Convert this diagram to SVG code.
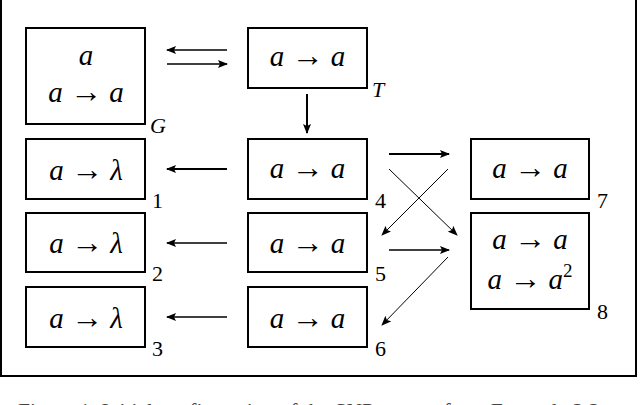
<svg xmlns="http://www.w3.org/2000/svg" width="640" height="405" viewBox="0 0 640 405">
<defs>
<marker id="ah" viewBox="0 0 10 8" refX="9" refY="4" markerWidth="10" markerHeight="8" markerUnits="userSpaceOnUse" orient="auto">
<path d="M0,0 L10,4 L0,8 L2,4 Z" fill="#000"/>
</marker>
</defs>
<style>
.box{fill:#fff;stroke:#000;stroke-width:2}
.m{font-size:29px;fill:#000}
.i{font-style:italic}
.ar{font-size:32px}
.lbl{font-size:22px;fill:#000}
.c{stroke:#000;fill:none;marker-end:url(#ah)}
.t1{stroke-width:1.5}
.t2{stroke-width:2}
.t3{stroke-width:1}
.cap{font-size:21.5px;fill:#444}
</style>
<path d="M1,-5 V376 H636 V-5" fill="none" stroke="#000" stroke-width="2"/>
<g font-family="Liberation Serif, Times New Roman, serif">
<g id="G">
<rect class="box" x="26" y="28" width="119" height="96"/>
<text class="m i" x="86" y="65" text-anchor="middle">a</text>
<text class="m" x="86" y="102" text-anchor="middle"><tspan class="i">a</tspan> <tspan class="ar">→</tspan> <tspan class="i">a</tspan></text>
<text class="lbl i" x="150" y="133" font-size="24">G</text>
</g>
<g id="T">
<rect class="box" x="248" y="28" width="119" height="60"/>
<text class="m" x="307.5" y="66" text-anchor="middle"><tspan class="i">a</tspan> <tspan class="ar">→</tspan> <tspan class="i">a</tspan></text>
<text class="lbl i" x="372" y="97" font-size="24">T</text>
</g>
<g id="n1">
<rect class="box" x="26" y="139" width="119" height="60"/>
<text class="m" x="86" y="180" text-anchor="middle"><tspan class="i">a</tspan> <tspan class="ar">→</tspan> <tspan class="i">λ</tspan></text>
<text class="lbl" x="152" y="208">1</text>
</g>
<g id="n2">
<rect class="box" x="26" y="213" width="119" height="59"/>
<text class="m" x="86" y="253" text-anchor="middle"><tspan class="i">a</tspan> <tspan class="ar">→</tspan> <tspan class="i">λ</tspan></text>
<text class="lbl" x="152" y="281">2</text>
</g>
<g id="n3">
<rect class="box" x="26" y="287" width="119" height="60"/>
<text class="m" x="86" y="328" text-anchor="middle"><tspan class="i">a</tspan> <tspan class="ar">→</tspan> <tspan class="i">λ</tspan></text>
<text class="lbl" x="152" y="356">3</text>
</g>
<g id="n4">
<rect class="box" x="248" y="139" width="119" height="60"/>
<text class="m" x="307.5" y="178" text-anchor="middle"><tspan class="i">a</tspan> <tspan class="ar">→</tspan> <tspan class="i">a</tspan></text>
<text class="lbl" x="375" y="208">4</text>
</g>
<g id="n5">
<rect class="box" x="248" y="213" width="119" height="59"/>
<text class="m" x="307.5" y="253" text-anchor="middle"><tspan class="i">a</tspan> <tspan class="ar">→</tspan> <tspan class="i">a</tspan></text>
<text class="lbl" x="375" y="281">5</text>
</g>
<g id="n6">
<rect class="box" x="248" y="287" width="119" height="60"/>
<text class="m" x="307.5" y="328" text-anchor="middle"><tspan class="i">a</tspan> <tspan class="ar">→</tspan> <tspan class="i">a</tspan></text>
<text class="lbl" x="375" y="356">6</text>
</g>
<g id="n7">
<rect class="box" x="471" y="139" width="118" height="60"/>
<text class="m" x="530" y="178" text-anchor="middle"><tspan class="i">a</tspan> <tspan class="ar">→</tspan> <tspan class="i">a</tspan></text>
<text class="lbl" x="597" y="208">7</text>
</g>
<g id="n8">
<rect class="box" x="471" y="213" width="118" height="96"/>
<text class="m" x="530" y="249" text-anchor="middle"><tspan class="i">a</tspan> <tspan class="ar">→</tspan> <tspan class="i">a</tspan></text>
<text class="m" x="530" y="289" text-anchor="middle"><tspan class="i">a</tspan> <tspan class="ar">→</tspan> <tspan class="i">a</tspan><tspan font-size="19" dy="-12">2</tspan></text>
<text class="lbl" x="597" y="319">8</text>
</g>
<text class="cap" x="18" y="418">Figure 1: Initial configuration of the SNP system from Example 2.2</text>
</g>
<g id="connectors">
<line class="c t1" x1="227" y1="50" x2="167" y2="50"/>
<line class="c t1" x1="167" y1="64" x2="227" y2="64"/>
<line class="c t2" x1="307" y1="94" x2="307" y2="133"/>
<line class="c t2" x1="227" y1="169" x2="167" y2="169"/>
<line class="c t1" x1="227" y1="243" x2="167" y2="243"/>
<line class="c t1" x1="227" y1="317" x2="167" y2="317"/>
<line class="c t2" x1="389" y1="154" x2="449" y2="154"/>
<line class="c t3" x1="389" y1="169" x2="457" y2="235"/>
<line class="c t3" x1="448" y1="169" x2="382" y2="235"/>
<line class="c t1" x1="389" y1="250" x2="449" y2="250"/>
<line class="c t3" x1="448" y1="257" x2="382" y2="325"/>
</g>
</svg>
